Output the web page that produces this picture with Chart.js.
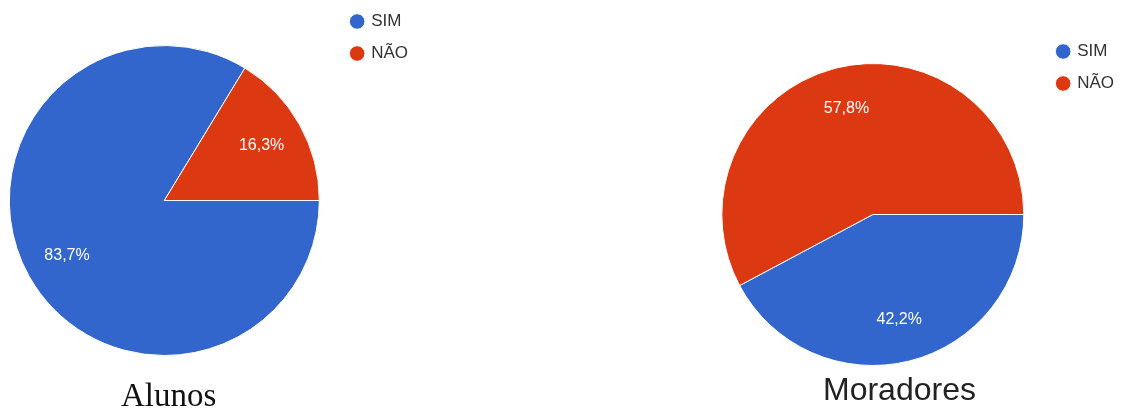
<!DOCTYPE html>
<html>
<head>
<meta charset="utf-8">
<script src="https://cdn.jsdelivr.net/npm/chart.js@4/dist/chart.umd.min.js"></script>
<style>
  html, body { margin: 0; padding: 0; background: #fff; }
  body { width: 1125px; height: 410px; position: relative; overflow: hidden; }
  .box { position: absolute; }
  #boxAlunos { left: -8px; top: -2px; width: 426px; height: 405px; }
  #boxMoradores { left: 703px; top: 28px; width: 421px; height: 373px; }
  .caption { position: absolute; color: #111; white-space: nowrap; }
  #capAlunos { left: 121px; top: 377px; font: 33px "Liberation Serif", serif; }
  #capMoradores { left: 823px; top: 371px; font: 32px "Liberation Sans", Arial, sans-serif; color: #222; }
</style>
</head>
<body>
<div class="box" id="boxAlunos"><canvas id="chartAlunos"></canvas></div>
<div class="box" id="boxMoradores"><canvas id="chartMoradores"></canvas></div>
<div class="caption" id="capAlunos">Alunos</div>
<div class="caption" id="capMoradores">Moradores</div>
<script>
const categories = ['SIM', 'NÃO'];
const alunosValues = [83.7, 16.3];
const moradoresValues = [42.2, 57.8];
const sliceColors = ['#3366cc', '#dc3912'];

// percentage text inside each slice, placed along the slice's middle angle
const sliceLabels = {
    id: 'sliceLabels',
    afterDatasetsDraw(chart) {
        const ctx = chart.ctx;
        const values = chart.data.datasets[0].data;
        chart.getDatasetMeta(0).data.forEach((arc, i) => {
            const p = arc.getProps(['x', 'y', 'startAngle', 'endAngle', 'outerRadius'], true);
            const mid = (p.startAngle + p.endAngle) / 2;
            const r = p.outerRadius * 0.72;
            ctx.save();
            ctx.fillStyle = '#ffffff';
            ctx.font = '16px "Liberation Sans", Arial, sans-serif';
            ctx.textAlign = 'center';
            ctx.textBaseline = 'middle';
            ctx.fillText(values[i].toFixed(1).replace('.', ',') + '%', p.x + Math.cos(mid) * r, p.y + Math.sin(mid) * r);
            ctx.restore();
        });
    }
};

function makePie(canvasId, values, radius) {
    return new Chart(document.getElementById(canvasId), {
        type: 'pie',
        data: {
            labels: categories,
            datasets: [{
                data: values,
                backgroundColor: sliceColors,
                borderColor: '#ffffff',
                borderWidth: 1,
                radius: radius
            }]
        },
        options: {
            responsive: true,
            maintainAspectRatio: false,
            animation: false,
            rotation: 90,
            layout: { padding: 0 },
            plugins: {
                tooltip: { enabled: false },
                legend: {
                    position: 'right',
                    align: 'start',
                    labels: {
                        usePointStyle: true,
                        pointStyle: 'circle',
                        boxWidth: 11,
                        boxHeight: 11,
                        padding: 15,
                        color: '#333',
                        font: { family: '"Liberation Sans", Arial, sans-serif', size: 17, lineHeight: 1 }
                    }
                }
            }
        },
        plugins: [sliceLabels]
    });
}

makePie('chartAlunos', alunosValues, 155);
makePie('chartMoradores', moradoresValues, 151);
</script>
</body>
</html>
